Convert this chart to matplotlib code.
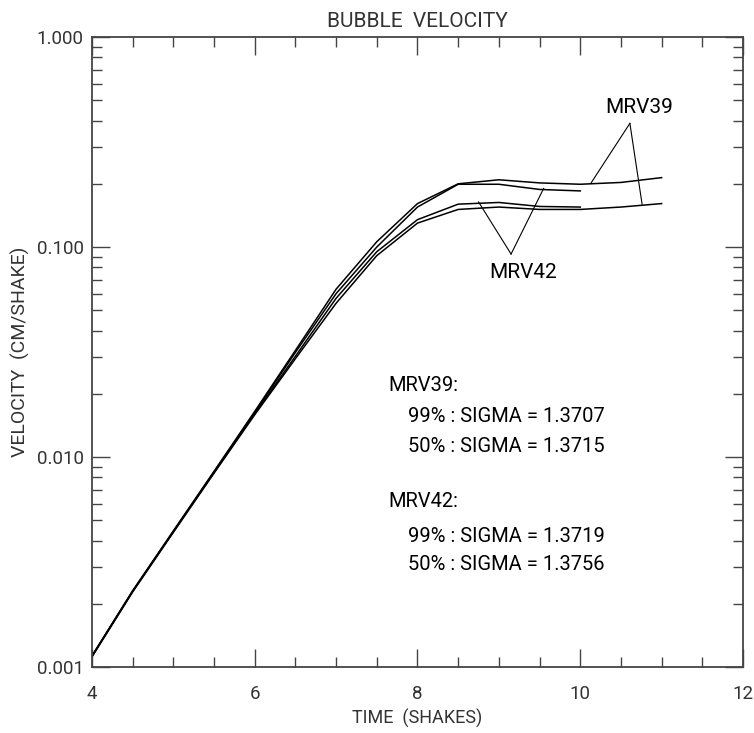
import matplotlib
matplotlib.use('Agg')
import matplotlib.pyplot as plt
from matplotlib.ticker import MultipleLocator, FixedLocator, LogLocator, NullFormatter

# Time axis (shakes)
time_long = [4.0, 4.5, 5.0, 5.5, 6.0, 6.5, 7.0, 7.5, 8.0, 8.5, 9.0, 9.5, 10.0, 10.5, 11.0]
time_short = [4.0, 4.5, 5.0, 5.5, 6.0, 6.5, 7.0, 7.5, 8.0, 8.5, 9.0, 9.5, 10.0]

# MRV39 curves (run to 11 shakes)
mrv39_upper = [0.00113, 0.00231, 0.00445, 0.00855, 0.0165, 0.0322, 0.063, 0.106, 0.161,
               0.200, 0.209, 0.202, 0.199, 0.203, 0.214]
mrv39_lower = [0.00112, 0.00228, 0.00438, 0.00838, 0.0159, 0.0294, 0.054, 0.091, 0.130,
               0.151, 0.155, 0.151, 0.151, 0.155, 0.161]

# MRV42 curves (run to 10 shakes)
mrv42_upper = [0.00113, 0.00230, 0.00443, 0.00850, 0.0163, 0.0315, 0.060, 0.100, 0.155,
               0.199, 0.199, 0.188, 0.185]
mrv42_lower = [0.00112, 0.00229, 0.00440, 0.00844, 0.0161, 0.0302, 0.057, 0.095, 0.135,
               0.160, 0.163, 0.156, 0.155]

ytick_vals = [0.001, 0.01, 0.1, 1.0]
ytick_labels = ['0.001', '0.010', '0.100', '1.000']
xtick_vals = [4, 6, 8, 10, 12]

# Label pointers: (text position, apex, line ends)
mrv39_text = (10.72, 0.46)
mrv39_apex = (10.61, 0.388)
mrv39_ends = [(10.13, 0.201), (10.76, 0.160)]
mrv42_text = (9.30, 0.076)
mrv42_apex = (9.15, 0.0926)
mrv42_ends = [(8.75, 0.164), (9.55, 0.190)]

sigma_lines = ['MRV39:', '99% : SIGMA = 1.3707', '50% : SIGMA = 1.3715',
               'MRV42:', '99% : SIGMA = 1.3719', '50% : SIGMA = 1.3756']

plt.rcParams['font.family'] = ['Roboto', 'DejaVu Sans']
axcol = '#444444'
txtcol = '#333333'

fig = plt.figure(figsize=(7.54, 7.33), dpi=100)
ax = fig.add_axes([0.122, 0.09, 0.8634, 0.8595])

# Curves
ax.plot(time_long, mrv39_upper, color='black', lw=1.1)
ax.plot(time_long, mrv39_lower, color='black', lw=1.1)
ax.plot(time_short, mrv42_upper, color='black', lw=1.1)
ax.plot(time_short, mrv42_lower, color='black', lw=1.1)

# Pointers
for end in mrv39_ends:
    ax.plot([mrv39_apex[0], end[0]], [mrv39_apex[1], end[1]], color='black', lw=0.8)
for end in mrv42_ends:
    ax.plot([mrv42_apex[0], end[0]], [mrv42_apex[1], end[1]], color='black', lw=0.8)
ax.text(mrv39_text[0], mrv39_text[1], 'MRV39', ha='center', va='center', fontsize=15)
ax.text(mrv42_text[0], mrv42_text[1], 'MRV42', ha='center', va='center', fontsize=15)

# Sigma text block
text_x = [0.455, 0.486, 0.486, 0.455, 0.486, 0.486]
text_y = [0.4476, 0.398, 0.3497, 0.2624, 0.2068, 0.163]
for tx, ty, s in zip(text_x, text_y, sigma_lines):
    ax.text(tx, ty, s, transform=ax.transAxes, ha='left', va='center', fontsize=14.5)

# Axes
ax.set_yscale('log')
ax.set_xlim(4, 12)
ax.set_ylim(0.001, 1.0)
ax.xaxis.set_major_locator(FixedLocator(xtick_vals))
ax.xaxis.set_minor_locator(MultipleLocator(0.5))
ax.yaxis.set_major_locator(FixedLocator(ytick_vals))
ax.yaxis.set_minor_locator(LogLocator(base=10, subs=range(2, 10)))
ax.yaxis.set_minor_formatter(NullFormatter())
ax.set_yticklabels(ytick_labels, fontsize=13.5, color=txtcol)
ax.set_xticklabels([str(v) for v in xtick_vals], fontsize=13.5, color=txtcol)

ax.tick_params(which='both', direction='in', top=True, right=True, color=axcol, width=1.0)
ax.tick_params(which='major', length=13)
ax.tick_params(which='minor', length=7)
ax.tick_params(axis='x', which='major', pad=13)
ax.tick_params(axis='y', which='major', pad=6)
for sp in ax.spines.values():
    sp.set_color(axcol)
    sp.set_linewidth(1.3)

ax.set_xlabel('TIME  (SHAKES)', fontsize=13, color=txtcol, labelpad=4)
ax.set_ylabel('VELOCITY  (CM/SHAKE)', fontsize=14, color=txtcol, labelpad=5)
ax.set_title('BUBBLE  VELOCITY', fontsize=15, color=txtcol, pad=7)

fig.savefig('out.png', dpi=100)
